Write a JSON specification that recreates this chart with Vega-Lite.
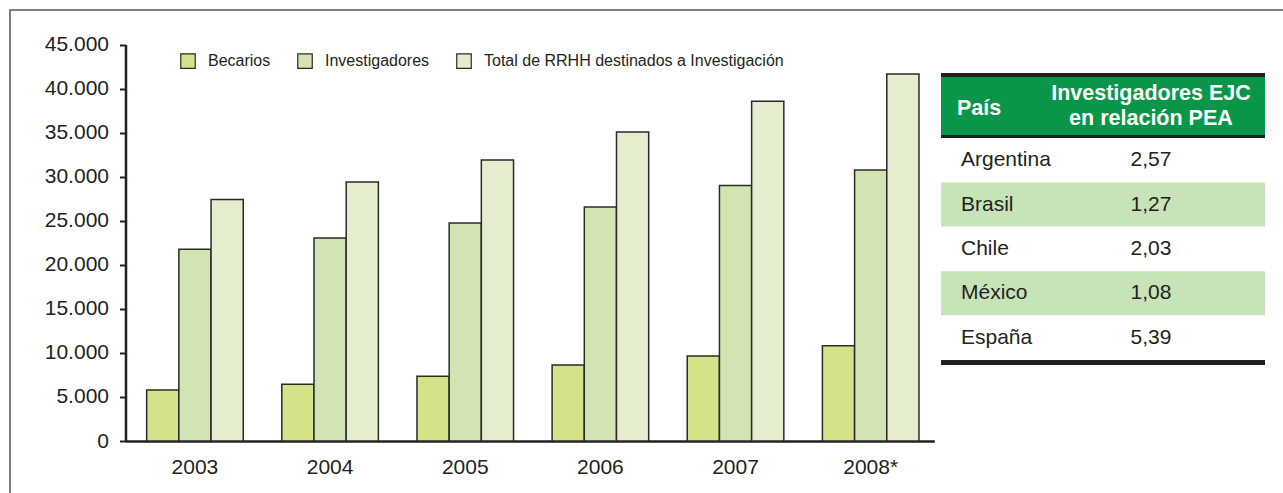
{
  "$schema": "https://vega.github.io/schema/vega-lite/v6.json",
  "width": 1278,
  "height": 488,
  "autosize": {"type": "none"},
  "padding": {"left": 10, "top": 10, "right": -5, "bottom": -5},
  "background": "white",
  "config": {
    "font": "Liberation Sans",
    "view": {"stroke": "#555555", "strokeWidth": 1.5},
    "locale": {"number": {"decimal": ",", "thousands": ".", "grouping": [3], "currency": ["", ""]}}
  },
  "datasets": {
    "rrhh": [
      {"anio": "2003", "serie": "Becarios", "valor": 5790},
      {"anio": "2003", "serie": "Investigadores", "valor": 21750},
      {"anio": "2003", "serie": "Total de RRHH destinados a Investigación", "valor": 27420},
      {"anio": "2004", "serie": "Becarios", "valor": 6430},
      {"anio": "2004", "serie": "Investigadores", "valor": 23030},
      {"anio": "2004", "serie": "Total de RRHH destinados a Investigación", "valor": 29390},
      {"anio": "2005", "serie": "Becarios", "valor": 7340},
      {"anio": "2005", "serie": "Investigadores", "valor": 24730},
      {"anio": "2005", "serie": "Total de RRHH destinados a Investigación", "valor": 31880},
      {"anio": "2006", "serie": "Becarios", "valor": 8620},
      {"anio": "2006", "serie": "Investigadores", "valor": 26550},
      {"anio": "2006", "serie": "Total de RRHH destinados a Investigación", "valor": 35060},
      {"anio": "2007", "serie": "Becarios", "valor": 9640},
      {"anio": "2007", "serie": "Investigadores", "valor": 29010},
      {"anio": "2007", "serie": "Total de RRHH destinados a Investigación", "valor": 38570},
      {"anio": "2008*", "serie": "Becarios", "valor": 10810},
      {"anio": "2008*", "serie": "Investigadores", "valor": 30750},
      {"anio": "2008*", "serie": "Total de RRHH destinados a Investigación", "valor": 41640}
    ],
    "tabla": [
      {"pais": "Argentina", "investigadores_ejc_pea": 2.57},
      {"pais": "Brasil", "investigadores_ejc_pea": 1.27},
      {"pais": "Chile", "investigadores_ejc_pea": 2.03},
      {"pais": "México", "investigadores_ejc_pea": 1.08},
      {"pais": "España", "investigadores_ejc_pea": 5.39}
    ],
    "encabezado": [
      {"col1": "País", "col2": "Investigadores EJC\nen relación PEA"}
    ]
  },
  "layer": [
    {
      "data": {"name": "rrhh"},
      "mark": {"type": "bar", "stroke": "#2a2a2a", "strokeWidth": 1.5},
      "encoding": {
        "x": {
          "field": "anio", "type": "nominal", "sort": null,
          "scale": {"type": "band", "range": [115.5, 924.3], "paddingInner": 0.2855, "paddingOuter": 0.135, "align": 0.58},
          "axis": {"title": null, "labelAngle": 0, "ticks": false, "domainColor": "#231f20", "domainWidth": 2.5, "labelFontSize": 21, "labelColor": "#231f20", "labelPadding": 15, "offset": -57}
        },
        "xOffset": {
          "field": "serie", "type": "nominal",
          "sort": ["Becarios", "Investigadores", "Total de RRHH destinados a Investigación"],
          "scale": {"paddingInner": 0, "paddingOuter": 0}
        },
        "y": {
          "field": "valor", "type": "quantitative",
          "scale": {"domain": [0, 45000], "range": [431, 34.5], "nice": false},
          "axis": {"title": null, "values": [0, 5000, 10000, 15000, 20000, 25000, 30000, 35000, 40000, 45000], "format": ",d", "labelFontSize": 21, "labelColor": "#231f20", "tickSize": 6, "tickWidth": 2, "tickColor": "#231f20", "domainColor": "#231f20", "domainWidth": 2.5, "grid": false, "offset": -115.5, "labelPadding": 11}
        },
        "color": {
          "field": "serie", "type": "nominal",
          "sort": ["Becarios", "Investigadores", "Total de RRHH destinados a Investigación"],
          "scale": {"domain": ["Becarios", "Investigadores", "Total de RRHH destinados a Investigación"], "range": ["#d4e288", "#d1e4b2", "#e4eece"]},
          "legend": {"orient": "none", "legendX": 170, "legendY": 43, "direction": "horizontal", "title": null, "symbolType": "square", "symbolSize": 210, "symbolStrokeColor": "#2a2a2a", "symbolStrokeWidth": 1.2, "symbolOpacity": 1, "labelFontSize": 16, "labelColor": "#231f20", "labelOffset": 12, "columnPadding": 24, "padding": 0, "labelLimit": 400}
        }
      }
    },
    {
      "data": {"name": "tabla"},
      "encoding": {
        "y": {
          "field": "pais", "type": "nominal", "sort": null,
          "scale": {"type": "band", "domain": ["Argentina", "Brasil", "Chile", "México", "España"], "range": [128, 350], "paddingInner": 0, "paddingOuter": 0},
          "axis": null
        }
      },
      "layer": [
        {
          "mark": {"type": "rect"},
          "encoding": {
            "x": {"datum": 0, "type": "quantitative", "scale": {"domain": [0, 1], "range": [931, 1255], "nice": false, "zero": false}, "axis": null},
            "x2": {"datum": 1},
            "fill": {"condition": {"test": "datum.pais === 'Brasil' || datum.pais === 'México'", "value": "#c9e3b9"}, "value": "#ffffff"}
          }
        },
        {
          "mark": {"type": "text", "align": "left", "baseline": "middle", "fontSize": 21, "color": "#231f20"},
          "encoding": {
            "x": {"datum": 0.0617, "type": "quantitative", "scale": {"domain": [0, 1], "range": [931, 1255], "nice": false, "zero": false}, "axis": null},
            "text": {"field": "pais", "type": "nominal"}
          }
        },
        {
          "mark": {"type": "text", "align": "center", "baseline": "middle", "fontSize": 21, "color": "#231f20"},
          "encoding": {
            "x": {"datum": 0.648, "type": "quantitative", "scale": {"domain": [0, 1], "range": [931, 1255], "nice": false, "zero": false}, "axis": null},
            "text": {"field": "investigadores_ejc_pea", "type": "quantitative", "format": ".2f"}
          }
        }
      ]
    },
    {
      "data": {"name": "encabezado"},
      "encoding": {
        "x": {"datum": 0, "type": "quantitative", "scale": {"domain": [0, 1], "range": [931, 1255], "nice": false, "zero": false}, "axis": null}
      },
      "layer": [
        {
          "mark": {"type": "rect", "fill": "#231f20"},
          "encoding": {
            "x2": {"datum": 1},
            "y": {"datum": 0, "type": "quantitative", "scale": {"domain": [0, 1], "range": [63, 355], "nice": false, "zero": false}, "axis": null},
            "y2": {"datum": 0.2226}
          }
        },
        {
          "mark": {"type": "rect", "fill": "#0a9548"},
          "encoding": {
            "x2": {"datum": 1},
            "y": {"datum": 0.0137, "type": "quantitative"},
            "y2": {"datum": 0.2123}
          }
        },
        {
          "mark": {"type": "rect", "fill": "#231f20"},
          "encoding": {
            "x2": {"datum": 1},
            "y": {"datum": 0.9829, "type": "quantitative"},
            "y2": {"datum": 1}
          }
        },
        {
          "mark": {"type": "text", "align": "left", "baseline": "middle", "fontSize": 21.5, "fontWeight": "bold", "color": "#ffffff"},
          "encoding": {
            "x": {"datum": 0.0494, "type": "quantitative"},
            "y": {"datum": 0.1233, "type": "quantitative"},
            "text": {"field": "col1", "type": "nominal"}
          }
        },
        {
          "mark": {"type": "text", "align": "center", "baseline": "middle", "fontSize": 21.5, "fontWeight": "bold", "color": "#ffffff", "lineBreak": "\n", "lineHeight": 25},
          "encoding": {
            "x": {"datum": 0.648, "type": "quantitative"},
            "y": {"datum": 0.0712, "type": "quantitative"},
            "text": {"field": "col2", "type": "nominal"}
          }
        }
      ]
    }
  ],
  "resolve": {"scale": {"x": "independent", "y": "independent"}}
}
